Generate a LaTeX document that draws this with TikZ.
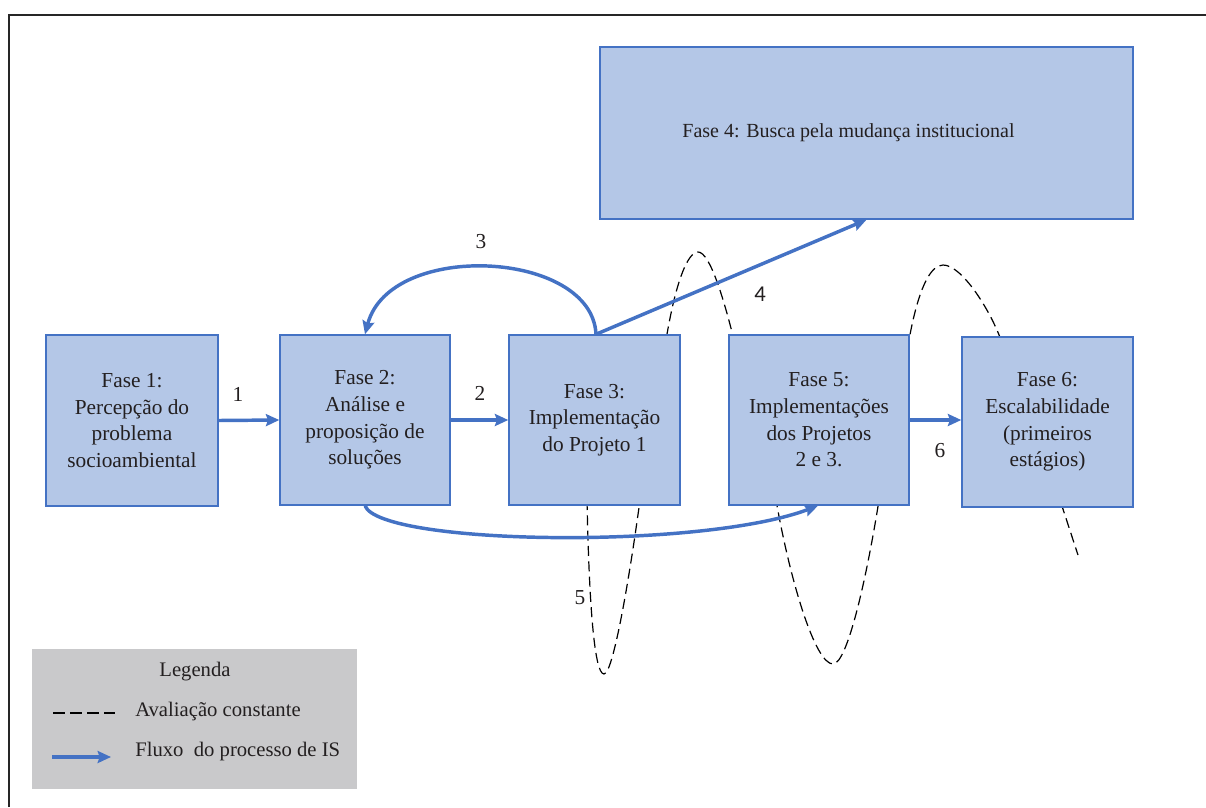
\documentclass[tikz,border=0pt]{standalone}
\usepackage{fontspec}
\setmainfont{Liberation Serif}
\newfontfamily\labelsans{Carlito}
\usetikzlibrary{arrows.meta,calc}
\definecolor{phasefill}{RGB}{180,199,231}
\definecolor{phaseline}{RGB}{68,114,196}
\definecolor{legendgray}{RGB}{201,201,203}
\definecolor{inktext}{RGB}{35,31,32}

\begin{document}
\begin{tikzpicture}[x=0.75pt,y=-0.75pt,
  phase/.style={draw=phaseline, line width=1.1pt, fill=phasefill, align=center,
    text=inktext, font=\fontsize{16}{20}\selectfont, inner sep=0pt},
  flow/.style={draw=phaseline, line width=2.6pt,
    -{Stealth[length=10pt,width=9pt,inset=1.5pt]}},
  evaluation/.style={draw=black, line width=0.9pt, dash pattern=on 7.5pt off 4pt},
  steplabel/.style={text=inktext, font=\fontsize{16}{20}\selectfont, inner sep=0pt},
  legendtext/.style={text=inktext, font=\fontsize{15.5}{19}\selectfont, inner sep=0pt}]

\useasboundingbox (0,0) rectangle (1206,807);

% outer frame
\draw[line width=1.5pt, draw=black!85] (9,807) -- (9,15) -- (1206,15);

% constant evaluation: dashed wave running behind the phase boxes
\draw[evaluation]
  (587,500) .. controls (589,600) and (594,674) .. (604,674)
            .. controls (614,674) and (632,560) .. (640,500)
  -- (666,340) .. controls (676,280) and (688,252) .. (698,252)
            .. controls (710,252) and (724,300) .. (734,340)
  -- (776,500) .. controls (790,580) and (815,664) .. (833,664)
            .. controls (848,664) and (868,570) .. (879,500)
  -- (909,340) .. controls (918,290) and (930,265) .. (943,265)
            .. controls (962,265) and (990,310) .. (1001,340)
  -- (1060,500) -- (1078,555);

% phases
\node[phase, minimum width={172*0.75pt}, minimum height={171*0.75pt}] (f1) at (132,420.5)
  {Fase 1:\\Percepção do\\problema\\socioambiental};
\node[phase, minimum width={170*0.75pt}, minimum height={170*0.75pt}] (f2) at (365,420)
  {Fase 2:\\Análise e\\proposição de\\soluções};
\node[phase, minimum width={171*0.75pt}, minimum height={170*0.75pt}] (f3) at (594.5,420)
  {Fase 3:\\Implementação\\do Projeto 1};
\node[phase, minimum width={533*0.75pt}, minimum height={172*0.75pt},
      font=\fontsize{15}{19}\selectfont] (f4) at (866.5,133)
  {\hspace*{-27pt}Fase 4: Busca pela mudança institucional};
\node[phase, minimum width={180*0.75pt}, minimum height={170*0.75pt}] (f5) at (819,420)
  {Fase 5:\\Implementações\\dos Projetos\\2 e 3.};
\node[phase, minimum width={171*0.75pt}, minimum height={170*0.75pt}] (f6) at (1047.5,422)
  {Fase 6:\\Escalabilidade\\(primeiros\\estágios)};

% process flow
\draw[flow] (f1.east) -- (f2.west);
\draw[flow] (f2.east) -- (f3.west);
\draw[flow] ($(f3.north)+(1.5,0)$) .. controls (592,250) and (390,240) .. (f2.north);
\draw[flow] ($(f3.north)+(1.5,0)$) -- (f4.south);
\draw[flow] (f2.south) .. controls (380,545) and (700,550) .. ($(f5.south)+(-1,0)$);
\draw[flow] (f5.east) -- (f5.east -| f6.west);

% step numbers
\node[steplabel] (n1) at (238,394) {1};
\node[steplabel] (n2) at (480,393) {2};
\node[steplabel] (n3) at (481,242) {3};
\node[steplabel, font=\labelsans\fontsize{17}{20}\selectfont] (n4) at (760,294) {4};
\node[steplabel] (n5) at (580,598) {5};
\node[steplabel] (n6) at (940,451) {6};

% legend
\node[fill=legendgray, minimum width={325*0.75pt}, minimum height={140*0.75pt},
      inner sep=0pt] (legend) at (194.5,719) {};
\node[legendtext] (legtitle) at (195,672) {Legenda};
\coordinate (dashA) at (53,713);
\coordinate (dashB) at (115,713);
\draw[evaluation, dash pattern=on 9pt off 3.8pt] (dashA) -- (dashB);
\node[legendtext, anchor=west] (legeval) at (135,712) {Avaliação constante};
\coordinate (flowA) at (52,757);
\coordinate (flowB) at (111,757);
\draw[flow] (flowA) -- (flowB);
\node[legendtext, anchor=west] (legflow) at (135,752) {Fluxo\ \ do processo de IS};

\end{tikzpicture}
\end{document}
